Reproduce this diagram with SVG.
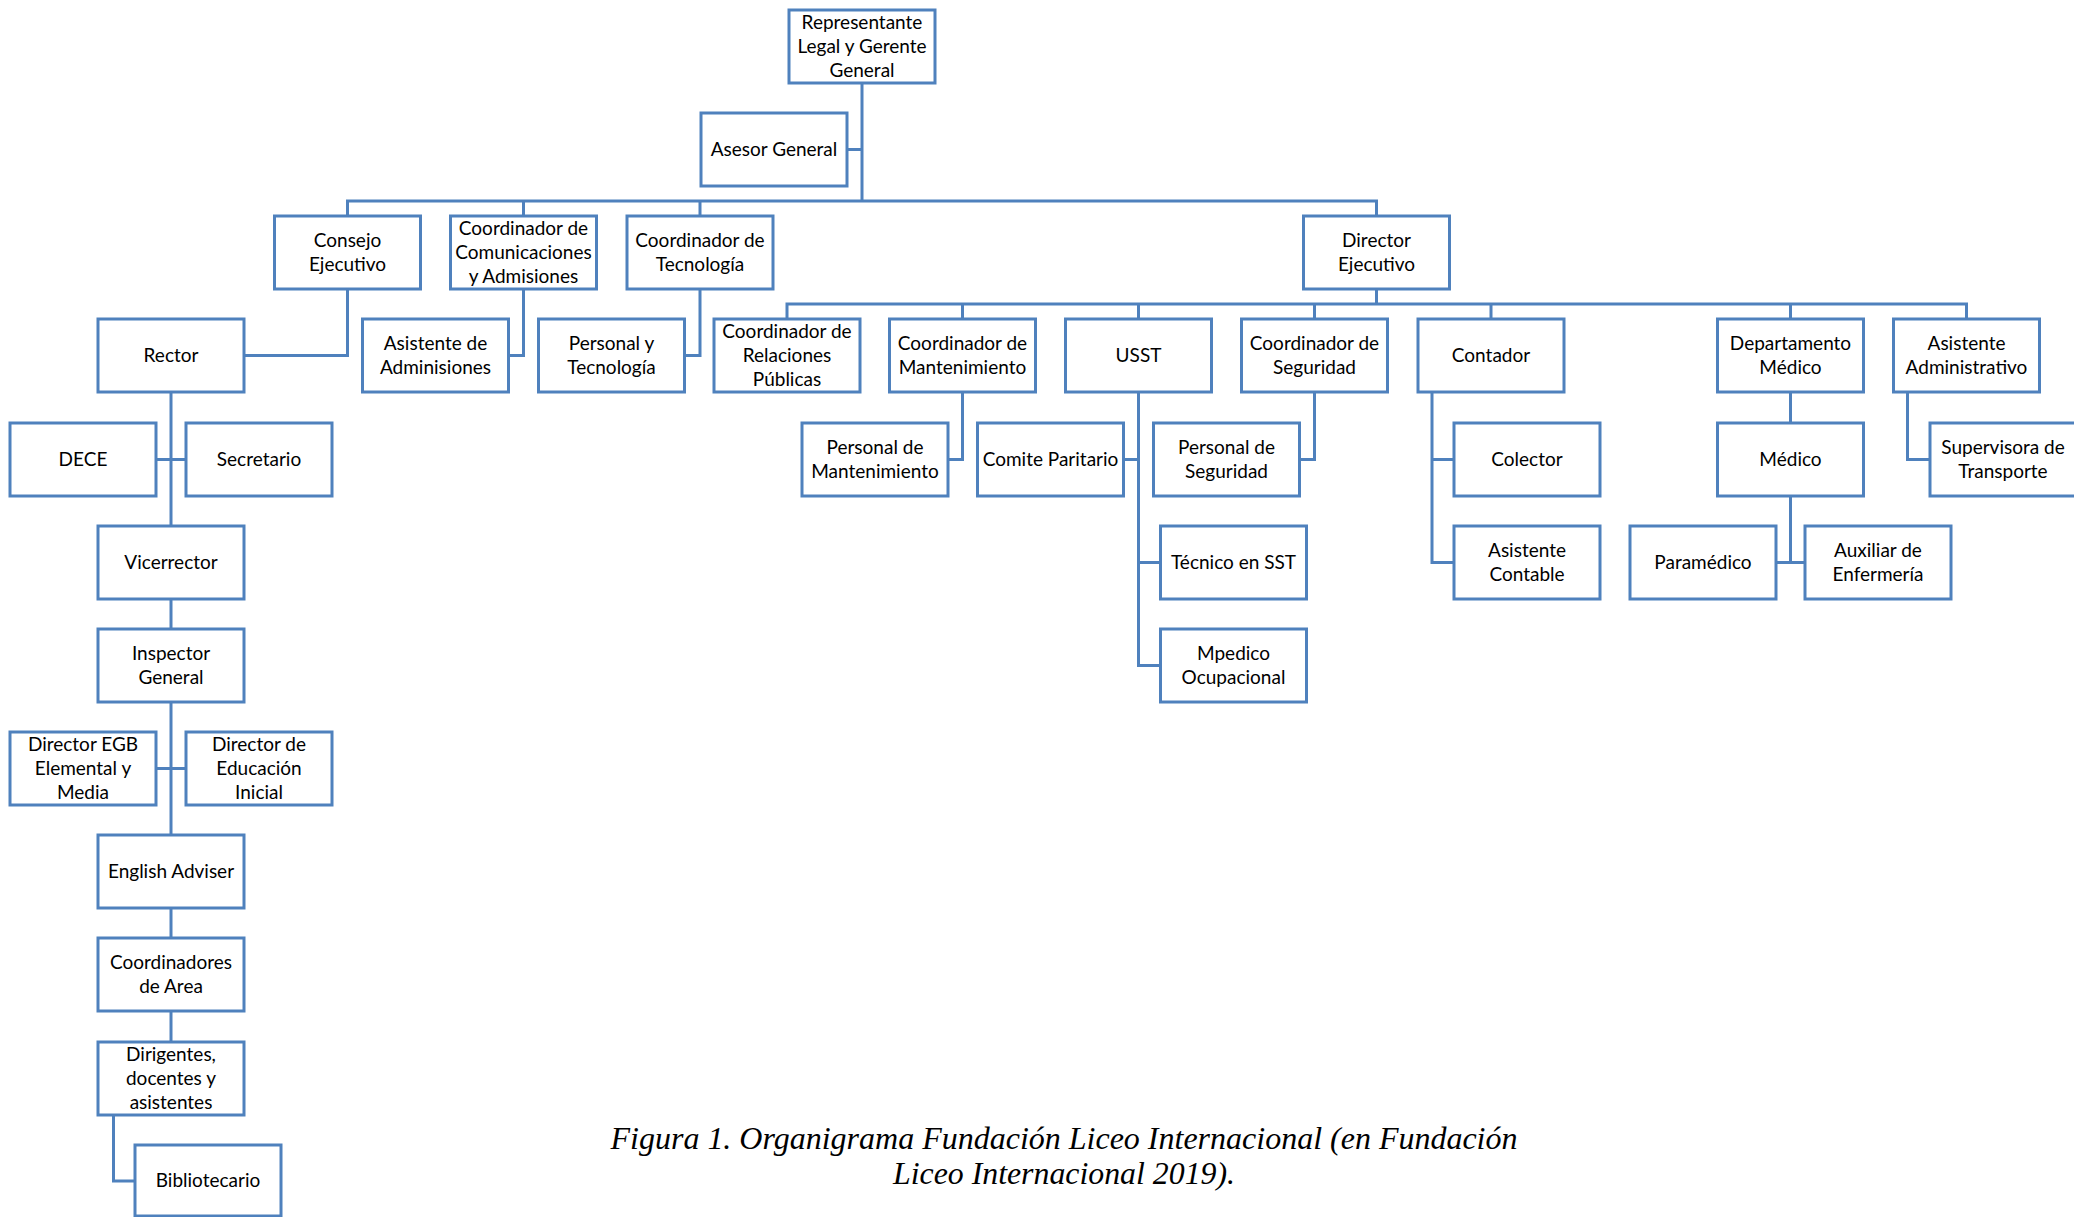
<svg xmlns="http://www.w3.org/2000/svg" width="2074" height="1217" viewBox="0 0 2074 1217">
<style>
.box{fill:#ffffff;stroke:#4F81BD;stroke-width:3}
.con{fill:none;stroke:#4F81BD;stroke-width:3}
.t{font-family:Lato,"Open Sans",sans-serif;font-size:19px;fill:#000;text-anchor:middle}
.cap{font-family:"Liberation Serif","Times New Roman",serif;font-style:italic;font-size:32px;fill:#000;text-anchor:middle}
</style>
<rect width="2074" height="1217" fill="#ffffff"/>
<g id="connectors" class="con">
<path d="M862,83 V201"/>
<path d="M847,149.5 H862"/>
<path d="M347.5,216 V201 H1376.5 V216"/>
<path d="M523.5,201 V216"/>
<path d="M700,201 V216"/>
<path d="M347.5,289 V355.5 H244"/>
<path d="M523.5,289 V355.5 H508.5"/>
<path d="M700,289 V355.5 H684.5"/>
<path d="M1376.5,289 V304"/>
<path d="M787,319 V304 H1966.5 V319"/>
<path d="M962.5,304 V319"/>
<path d="M1138.5,304 V319"/>
<path d="M1314.5,304 V319"/>
<path d="M1491,304 V319"/>
<path d="M1790.5,304 V319"/>
<path d="M171,392 V526"/>
<path d="M156,459.5 H186"/>
<path d="M171,599 V629"/>
<path d="M171,702 V835"/>
<path d="M156,768.5 H186"/>
<path d="M171,908 V938"/>
<path d="M171,1011 V1042"/>
<path d="M113.5,1115 V1181 H135"/>
<path d="M962.5,392 V459.5 H948"/>
<path d="M1138.5,392 V665.5 H1160.5"/>
<path d="M1123.5,459.5 H1138.5"/>
<path d="M1138.5,562.5 H1160.5"/>
<path d="M1314.5,392 V459.5 H1299.5"/>
<path d="M1432,392 V562.5 H1454"/>
<path d="M1432,459.5 H1454"/>
<path d="M1790.5,392 V423"/>
<path d="M1790.5,496 V562.5"/>
<path d="M1776,562.5 H1805"/>
<path d="M1907.5,392 V459.5 H1930"/>
</g>
<g id="n-representante"><rect class="box" x="789" y="10" width="146" height="73"/><text class="t" y="29.3"><tspan x="862">Representante</tspan><tspan x="862" dy="23.7">Legal y Gerente</tspan><tspan x="862" dy="23.7">General</tspan></text></g>
<g id="n-asesor"><rect class="box" x="701" y="113" width="146" height="73"/><text class="t" x="774" y="156">Asesor General</text></g>
<g id="n-consejo"><rect class="box" x="274.5" y="216" width="146" height="73"/><text class="t" y="247.15"><tspan x="347.5">Consejo</tspan><tspan x="347.5" dy="23.7">Ejecutivo</tspan></text></g>
<g id="n-comunicaciones"><rect class="box" x="450.5" y="216" width="146" height="73"/><text class="t" y="235.3"><tspan x="523.5">Coordinador de</tspan><tspan x="523.5" dy="23.7">Comunicaciones</tspan><tspan x="523.5" dy="23.7">y Admisiones</tspan></text></g>
<g id="n-tecnologia"><rect class="box" x="627" y="216" width="146" height="73"/><text class="t" y="247.15"><tspan x="700">Coordinador de</tspan><tspan x="700" dy="23.7">Tecnología</tspan></text></g>
<g id="n-director-ejecutivo"><rect class="box" x="1303.5" y="216" width="146" height="73"/><text class="t" y="247.15"><tspan x="1376.5">Director</tspan><tspan x="1376.5" dy="23.7">Ejecutivo</tspan></text></g>
<g id="n-rector"><rect class="box" x="98" y="319" width="146" height="73"/><text class="t" x="171" y="362">Rector</text></g>
<g id="n-asistente-adm"><rect class="box" x="362.5" y="319" width="146" height="73"/><text class="t" y="350.15"><tspan x="435.5">Asistente de</tspan><tspan x="435.5" dy="23.7">Adminisiones</tspan></text></g>
<g id="n-personal-tec"><rect class="box" x="538.5" y="319" width="146" height="73"/><text class="t" y="350.15"><tspan x="611.5">Personal y</tspan><tspan x="611.5" dy="23.7">Tecnología</tspan></text></g>
<g id="n-relaciones"><rect class="box" x="714" y="319" width="146" height="73"/><text class="t" y="338.3"><tspan x="787">Coordinador de</tspan><tspan x="787" dy="23.7">Relaciones</tspan><tspan x="787" dy="23.7">Públicas</tspan></text></g>
<g id="n-mantenimiento"><rect class="box" x="889.5" y="319" width="146" height="73"/><text class="t" y="350.15"><tspan x="962.5">Coordinador de</tspan><tspan x="962.5" dy="23.7">Mantenimiento</tspan></text></g>
<g id="n-usst"><rect class="box" x="1065.5" y="319" width="146" height="73"/><text class="t" x="1138.5" y="362">USST</text></g>
<g id="n-seguridad"><rect class="box" x="1241.5" y="319" width="146" height="73"/><text class="t" y="350.15"><tspan x="1314.5">Coordinador de</tspan><tspan x="1314.5" dy="23.7">Seguridad</tspan></text></g>
<g id="n-contador"><rect class="box" x="1418" y="319" width="146" height="73"/><text class="t" x="1491" y="362">Contador</text></g>
<g id="n-dept-medico"><rect class="box" x="1717.5" y="319" width="146" height="73"/><text class="t" y="350.15"><tspan x="1790.5">Departamento</tspan><tspan x="1790.5" dy="23.7">Médico</tspan></text></g>
<g id="n-asistente-administrativo"><rect class="box" x="1893.5" y="319" width="146" height="73"/><text class="t" y="350.15"><tspan x="1966.5">Asistente</tspan><tspan x="1966.5" dy="23.7">Administrativo</tspan></text></g>
<g id="n-dece"><rect class="box" x="10" y="423" width="146" height="73"/><text class="t" x="83" y="466">DECE</text></g>
<g id="n-secretario"><rect class="box" x="186" y="423" width="146" height="73"/><text class="t" x="259" y="466">Secretario</text></g>
<g id="n-personal-mant"><rect class="box" x="802" y="423" width="146" height="73"/><text class="t" y="454.15"><tspan x="875">Personal de</tspan><tspan x="875" dy="23.7">Mantenimiento</tspan></text></g>
<g id="n-comite"><rect class="box" x="977.5" y="423" width="146" height="73"/><text class="t" x="1050.5" y="466">Comite Paritario</text></g>
<g id="n-personal-seg"><rect class="box" x="1153.5" y="423" width="146" height="73"/><text class="t" y="454.15"><tspan x="1226.5">Personal de</tspan><tspan x="1226.5" dy="23.7">Seguridad</tspan></text></g>
<g id="n-colector"><rect class="box" x="1454" y="423" width="146" height="73"/><text class="t" x="1527" y="466">Colector</text></g>
<g id="n-medico"><rect class="box" x="1717.5" y="423" width="146" height="73"/><text class="t" x="1790.5" y="466">Médico</text></g>
<g id="n-supervisora"><rect class="box" x="1930" y="423" width="146" height="73"/><text class="t" y="454.15"><tspan x="2003">Supervisora de</tspan><tspan x="2003" dy="23.7">Transporte</tspan></text></g>
<g id="n-vicerrector"><rect class="box" x="98" y="526" width="146" height="73"/><text class="t" x="171" y="569">Vicerrector</text></g>
<g id="n-tecnico-sst"><rect class="box" x="1160.5" y="526" width="146" height="73"/><text class="t" x="1233.5" y="569">Técnico en SST</text></g>
<g id="n-asistente-contable"><rect class="box" x="1454" y="526" width="146" height="73"/><text class="t" y="557.15"><tspan x="1527">Asistente</tspan><tspan x="1527" dy="23.7">Contable</tspan></text></g>
<g id="n-paramedico"><rect class="box" x="1630" y="526" width="146" height="73"/><text class="t" x="1703" y="569">Paramédico</text></g>
<g id="n-auxiliar"><rect class="box" x="1805" y="526" width="146" height="73"/><text class="t" y="557.15"><tspan x="1878">Auxiliar de</tspan><tspan x="1878" dy="23.7">Enfermería</tspan></text></g>
<g id="n-inspector"><rect class="box" x="98" y="629" width="146" height="73"/><text class="t" y="660.15"><tspan x="171">Inspector</tspan><tspan x="171" dy="23.7">General</tspan></text></g>
<g id="n-mpedico"><rect class="box" x="1160.5" y="629" width="146" height="73"/><text class="t" y="660.15"><tspan x="1233.5">Mpedico</tspan><tspan x="1233.5" dy="23.7">Ocupacional</tspan></text></g>
<g id="n-director-egb"><rect class="box" x="10" y="732" width="146" height="73"/><text class="t" y="751.3"><tspan x="83">Director EGB</tspan><tspan x="83" dy="23.7">Elemental y</tspan><tspan x="83" dy="23.7">Media</tspan></text></g>
<g id="n-director-inicial"><rect class="box" x="186" y="732" width="146" height="73"/><text class="t" y="751.3"><tspan x="259">Director de</tspan><tspan x="259" dy="23.7">Educación</tspan><tspan x="259" dy="23.7">Inicial</tspan></text></g>
<g id="n-english"><rect class="box" x="98" y="835" width="146" height="73"/><text class="t" x="171" y="878">English Adviser</text></g>
<g id="n-coordinadores-area"><rect class="box" x="98" y="938" width="146" height="73"/><text class="t" y="969.15"><tspan x="171">Coordinadores</tspan><tspan x="171" dy="23.7">de Area</tspan></text></g>
<g id="n-dirigentes"><rect class="box" x="98" y="1042" width="146" height="73"/><text class="t" y="1061.3"><tspan x="171">Dirigentes,</tspan><tspan x="171" dy="23.7">docentes y</tspan><tspan x="171" dy="23.7">asistentes</tspan></text></g>
<g id="n-bibliotecario"><rect class="box" x="135" y="1145" width="146" height="71"/><text class="t" x="208" y="1187">Bibliotecario</text></g>
<g id="caption">
<text class="cap" x="1064" y="1149" textLength="907" lengthAdjust="spacingAndGlyphs">Figura 1. Organigrama Fundación Liceo Internacional (en Fundación</text>
<text class="cap" x="1064" y="1184" textLength="342" lengthAdjust="spacingAndGlyphs">Liceo Internacional 2019).</text>
</g>
</svg>
